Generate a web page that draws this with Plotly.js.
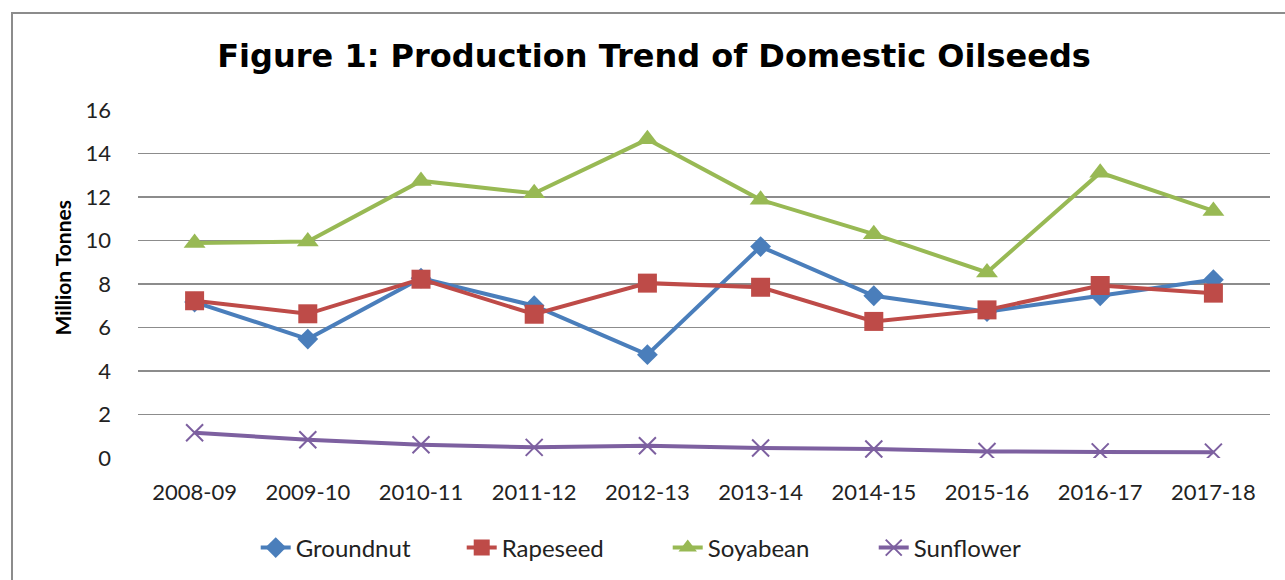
<!DOCTYPE html>
<html>
<head>
<meta charset="utf-8">
<script src="https://cdn.plot.ly/plotly-3.0.1.min.js"></script>
<style>
html,body{margin:0;padding:0;background:#fff;}
#wrap{position:relative;width:1285px;height:580px;overflow:hidden;}
#chart{position:absolute;left:0;top:0;width:1285px;height:580px;}
#frame{position:absolute;left:11px;top:12px;width:1300px;height:600px;border-left:2px solid #8c8c8c;border-top:2px solid #8c8c8c;pointer-events:none;}
</style>
</head>
<body>
<div id="wrap"><div id="chart"></div><div id="frame"></div></div>
<script>
const categories = ["2008-09","2009-10","2010-11","2011-12","2012-13","2013-14","2014-15","2015-16","2016-17","2017-18"];
const groundnut = [7.17, 5.47, 8.27, 7.0, 4.75, 9.72, 7.46, 6.73, 7.46, 8.2];
const rapeseed  = [7.23, 6.63, 8.22, 6.61, 8.04, 7.85, 6.28, 6.81, 7.93, 7.58];
const soyabean  = [9.88, 9.95, 12.74, 12.17, 14.65, 11.87, 10.29, 8.53, 13.12, 11.36];
const sunflower = [1.16, 0.84, 0.61, 0.49, 0.56, 0.46, 0.41, 0.30, 0.28, 0.27];
const yTicks = [0, 2, 4, 6, 8, 10, 12, 14, 16];

const traces = [
  {name:"Groundnut", y:groundnut, color:"#4A7EBB", symbol:"diamond", size:16},
  {name:"Rapeseed", y:rapeseed, color:"#BE4B48", symbol:"square", size:19},
  {name:"Soyabean", y:soyabean, color:"#98B954", symbol:"triangle-up", size:19},
  {name:"Sunflower", y:sunflower, color:"#7D60A0", symbol:"x-thin-open", size:17}
].map(s => ({
  type:"scatter", mode:"lines+markers", name:s.name, x:categories, y:s.y,
  line:{color:s.color, width:4},
  marker:{symbol:s.symbol, size:s.size, color:s.color, line:{color:s.color, width: s.symbol==="x-thin-open"?2:0}}
}));

const layout = {
  width:1285, height:580,
  margin:{l:138, r:15, t:110, b:122},
  paper_bgcolor:"#fff", plot_bgcolor:"#fff",
  font:{family:"Lato, 'Open Sans', sans-serif", size:22, color:"#222"},
  title:{text:"Figure 1: Production Trend of Domestic Oilseeds",
    font:{family:"'DejaVu Sans', 'Liberation Sans', Arial, sans-serif", size:32, color:"#000", weight:"bold"},
    xref:"container", yref:"container", x:0.509, y:1-55.5/580, xanchor:"center", yanchor:"middle"},
  xaxis:{type:"category", range:[-0.5, 9.5], showgrid:false, zeroline:false, showline:false,
    ticks:"", ticklabelstandoff:19, tickfont:{size:22, color:"#222"}, fixedrange:true},
  yaxis:{range:[0,16], tickvals:yTicks, ticktext:yTicks.map(String), showgrid:true, gridcolor:"#8c8c8c", gridwidth:1.3,
    zeroline:false, showline:false, ticks:"", ticklabelstandoff:26, tickfont:{size:22, color:"#222"}, fixedrange:true},
  showlegend:true,
  legend:{orientation:"h", xref:"container", yref:"container", x:0.199, y:1-548/580, xanchor:"left", yanchor:"middle",
    font:{size:24, color:"#222"}, entrywidth:161, entrywidthmode:"pixels", bgcolor:"rgba(0,0,0,0)"},
  annotations:[{text:"<b>Million Tonnes</b>", xref:"paper", yref:"paper", x:-0.067, y:0.545, xanchor:"center", yanchor:"middle",
    textangle:-90, showarrow:false, font:{size:21, color:"#000"}}]
};

Plotly.newPlot("chart", traces, layout, {displayModeBar:false, staticPlot:true});
</script>
</body>
</html>
